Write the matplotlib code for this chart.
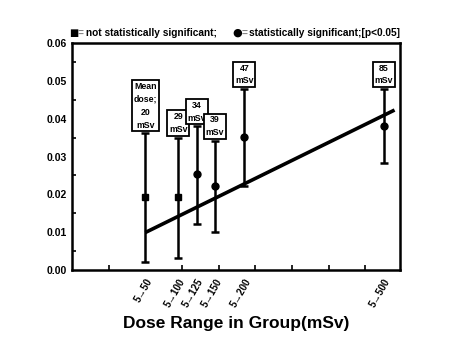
import matplotlib.pyplot as plt
import numpy as np

# Group mean dose (mSv) and the dose range label of each group
mean_dose = [20, 29, 34, 39, 47, 85]
range_labels = ["5\u219250", "5\u2192100", "5\u2192125", "5\u2192150", "5\u2192200", "5\u2192500"]
box_labels = ["Mean\ndose;\n20\nmSv", "29\nmSv", "34\nmSv", "39\nmSv", "47\nmSv", "85\nmSv"]

# Estimate, lower and upper bound per group
estimate = [0.0192, 0.0192, 0.0253, 0.0222, 0.0352, 0.0381]
lower = [0.0022, 0.0031, 0.0122, 0.0100, 0.0222, 0.0282]
upper = [0.0361, 0.0350, 0.0380, 0.0341, 0.0478, 0.0478]
significant = [False, False, True, True, True, True]

# Fitted trend line end points
trend_x = [20, 88]
trend_y = [0.0099, 0.0423]

plt.rcParams["font.family"] = ["Liberation Sans", "DejaVu Sans"]
plt.rcParams["font.weight"] = "bold"

fig = plt.figure(figsize=(4.5, 3.37), dpi=100)
ax = fig.add_axes([0.16, 0.199, 0.729, 0.673])

ax.plot(trend_x, trend_y, color="black", lw=2.6, solid_capstyle="butt", zorder=2)

for x, est, lo, hi, sig, lab in zip(mean_dose, estimate, lower, upper,
                                    significant, box_labels):
    ax.errorbar([x], [est], yerr=[[est - lo], [hi - est]], fmt="o" if sig else "s",
                color="black", ms=5, lw=1.8, capsize=3, capthick=1.8, zorder=3)
    ax.text(x, hi + 0.0010, lab, ha="center", va="bottom", fontsize=6.3,
            fontweight="bold", linespacing=1.55,
            bbox=dict(boxstyle="square,pad=0.2", fc="white", ec="black", lw=1.3))

ax.set_xlim(0, 89.5)
ax.set_ylim(0, 0.06)

ax.set_yticks(np.arange(0, 0.061, 0.01))
ax.set_yticklabels([f"{v:.2f}" for v in np.arange(0, 0.061, 0.01)])
ax.set_yticks(np.arange(0.005, 0.06, 0.01), minor=True)
ax.tick_params(axis="y", which="major", length=0, labelsize=7.5, pad=4)
ax.tick_params(axis="y", which="minor", direction="in", length=3, width=1.2)

ax.set_xticks(mean_dose)
ax.set_xticklabels(range_labels, rotation=60, ha="right", rotation_mode="anchor")
ax.set_xticks(np.arange(10, 90, 10), minor=True)
ax.tick_params(axis="x", which="major", length=0, labelsize=7, pad=5)
ax.tick_params(axis="x", which="minor", direction="in", length=3.5, width=1.2)

for sp in ax.spines.values():
    sp.set_linewidth(1.8)

ax.set_xlabel("Dose Range in Group(mSv)", fontsize=12.5, fontweight="bold", labelpad=5)

# Header key
y_key = 0.902
fig.text(0.153, y_key, "\u25a0", fontsize=7, va="center", family="DejaVu Sans")
fig.text(0.173, y_key, "=", fontsize=7.3, color="gray", va="center")
fig.text(0.190, y_key, "not statistically significant;", fontsize=7.3, va="center")
fig.text(0.516, y_key, "\u25cf", fontsize=8, va="center", family="DejaVu Sans")
fig.text(0.538, y_key, "=", fontsize=7.3, color="gray", va="center")
fig.text(0.554, y_key, "statistically significant;[p<0.05]", fontsize=7.3, va="center")

fig.savefig("out.png", dpi=100)
